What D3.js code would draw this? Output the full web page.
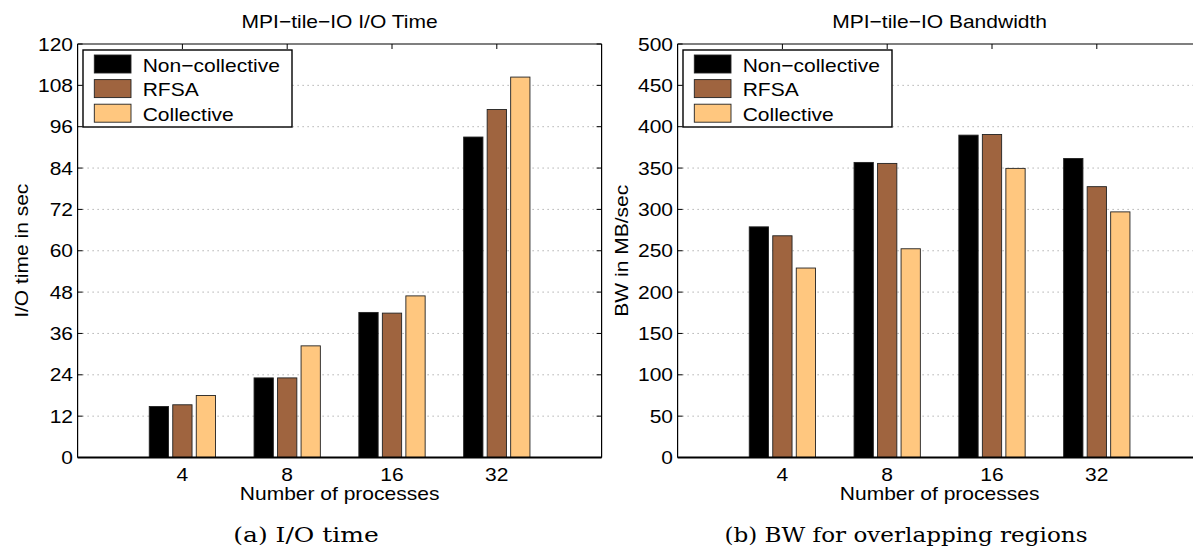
<!DOCTYPE html>
<html>
<head>
<meta charset="utf-8">
<script src="https://cdn.jsdelivr.net/npm/d3@7"></script>
<style>
  html, body { margin: 0; padding: 0; background: #fff; }
  svg { display: block; }
</style>
</head>
<body>
<svg id="chart" width="1193" height="548"></svg>
<script>
// ---------------- data ----------------
const categories = ["4", "8", "16", "32"];
const seriesNames = ["Non\u2212collective", "RFSA", "Collective"];
const seriesColors = ["#000000", "#9f643f", "#ffc77f"];

const timeNonCollective = [14.8, 23.1, 42.1, 93.0];
const timeRFSA          = [15.3, 23.1, 41.9, 101.0];
const timeCollective    = [18.0, 32.4, 46.9, 110.4];
const timeTicks = [0, 12, 24, 36, 48, 60, 72, 84, 96, 108, 120];

const bwNonCollective = [278.9, 356.8, 389.8, 361.6];
const bwRFSA          = [268.1, 355.6, 390.6, 327.5];
const bwCollective    = [229.1, 252.4, 349.6, 297.0];
const bwTicks = [0, 50, 100, 150, 200, 250, 300, 350, 400, 450, 500];

const panels = [
  { ox: 0, title: "MPI\u2212tile\u2212IO I/O Time", ylabel: "I/O time in sec",
    ticks: timeTicks, series: [timeNonCollective, timeRFSA, timeCollective],
    caption: "(a) I/O time", capX: 306, capW: 145.5 },
  { ox: 600, title: "MPI\u2212tile\u2212IO Bandwidth", ylabel: "BW in MB/sec",
    ticks: bwTicks, series: [bwNonCollective, bwRFSA, bwCollective],
    caption: "(b) BW for overlapping regions", capX: 306, capW: 363 }
];

// ---------------- drawing ----------------
const svg = d3.select("#chart");
const SANS = "'Liberation Sans', Arial, Helvetica, sans-serif";
const FS = 18.6, SX = 1.13;

function label(g, x, y, s, anchor, rot) {
  return g.append("text")
    .attr("transform", `translate(${x},${y}) rotate(${rot || 0}) scale(${SX},1)`)
    .attr("text-anchor", anchor || "start")
    .attr("font-family", SANS)
    .attr("font-size", FS)
    .attr("fill", "#000")
    .text(s);
}

panels.forEach(p => {
  const g = svg.append("g").attr("transform", `translate(${p.ox},0)`);
  const L = 77.6, R = 601.6, T = 44, B = 457.5;
  const yMax = p.ticks[p.ticks.length - 1];
  const x = d3.scaleLinear().domain([0, categories.length + 1]).range([L, R]);
  const y = d3.scaleLinear().domain([0, yMax]).range([B, T]);
  const groupOff = 0.2243, barW = 0.184;

  // grid
  g.selectAll("line.grid").data(p.ticks.slice(1, -1)).enter().append("line")
    .attr("x1", L).attr("x2", R).attr("y1", d => y(d)).attr("y2", d => y(d))
    .attr("stroke", "#8c8c8c").attr("stroke-width", 1)
    .attr("stroke-dasharray", "1,4");

  // inward tick marks
  g.selectAll("line.lt").data(p.ticks).enter().append("line")
    .attr("x1", L).attr("x2", L + 5).attr("y1", d => y(d)).attr("y2", d => y(d))
    .attr("stroke", "#000");
  g.selectAll("line.rt").data(p.ticks).enter().append("line")
    .attr("x1", R - 5).attr("x2", R).attr("y1", d => y(d)).attr("y2", d => y(d))
    .attr("stroke", "#000");
  g.selectAll("line.tt").data(categories).enter().append("line")
    .attr("x1", (d, i) => x(i + 1)).attr("x2", (d, i) => x(i + 1))
    .attr("y1", T).attr("y2", T + 5).attr("stroke", "#000");
  g.selectAll("line.bt").data(categories).enter().append("line")
    .attr("x1", (d, i) => x(i + 1)).attr("x2", (d, i) => x(i + 1))
    .attr("y1", B).attr("y2", B - 5).attr("stroke", "#000");

  // bars
  p.series.forEach((vals, j) => {
    g.selectAll(null).data(vals).enter().append("rect")
      .attr("x", (d, i) => x(i + 1 + (j - 1) * groupOff - barW / 2))
      .attr("width", x(barW) - x(0))
      .attr("y", d => y(d))
      .attr("height", d => y(0) - y(d))
      .attr("fill", seriesColors[j])
      .attr("stroke", "#222").attr("stroke-width", 0.9);
  });

  // frame
  g.append("line").attr("x1", L).attr("x2", R).attr("y1", T).attr("y2", T).attr("stroke", "#000").attr("stroke-width", 1.2);
  g.append("line").attr("x1", L).attr("x2", L).attr("y1", T).attr("y2", B).attr("stroke", "#000").attr("stroke-width", 1.2);
  g.append("line").attr("x1", R).attr("x2", R).attr("y1", T).attr("y2", B).attr("stroke", "#000").attr("stroke-width", 1.2);
  g.append("line").attr("x1", L).attr("x2", R).attr("y1", B).attr("y2", B).attr("stroke", "#000").attr("stroke-width", 2);

  // y tick labels
  p.ticks.forEach(t => label(g, L - 4.6, y(t) + 6.6, String(t), "end"));
  // x tick labels
  categories.forEach((c, i) => label(g, x(i + 1), 480.6, c, "middle"));

  // titles
  label(g, (L + R) / 2, 28.3, p.title, "middle");
  label(g, (L + R) / 2, 500, "Number of processes", "middle");
  label(g, 28.3, (T + B) / 2, p.ylabel, "middle", -90);

  // legend
  const lx = 83, ly = 50, lw = 209, lh = 77;
  g.append("rect").attr("x", lx).attr("y", ly).attr("width", lw).attr("height", lh)
    .attr("fill", "#fff").attr("stroke", "#000").attr("stroke-width", 1.4);
  seriesNames.forEach((s, j) => {
    const ry = 55 + j * 24.6;
    g.append("rect").attr("x", 94.3).attr("y", ry).attr("width", 36.7).attr("height", 18)
      .attr("fill", seriesColors[j]).attr("stroke", "#222").attr("stroke-width", 0.9);
    label(g, 142.7, ry + 16.6, s, "start");
  });

  // caption
  g.append("text")
    .attr("x", p.capX).attr("y", 541.5)
    .attr("text-anchor", "middle")
    .attr("font-family", "'DejaVu Serif', 'Liberation Serif', serif")
    .attr("font-size", 20.5)
    .attr("textLength", p.capW).attr("lengthAdjust", "spacingAndGlyphs")
    .attr("fill", "#000")
    .text(p.caption);
});
</script>
</body>
</html>
